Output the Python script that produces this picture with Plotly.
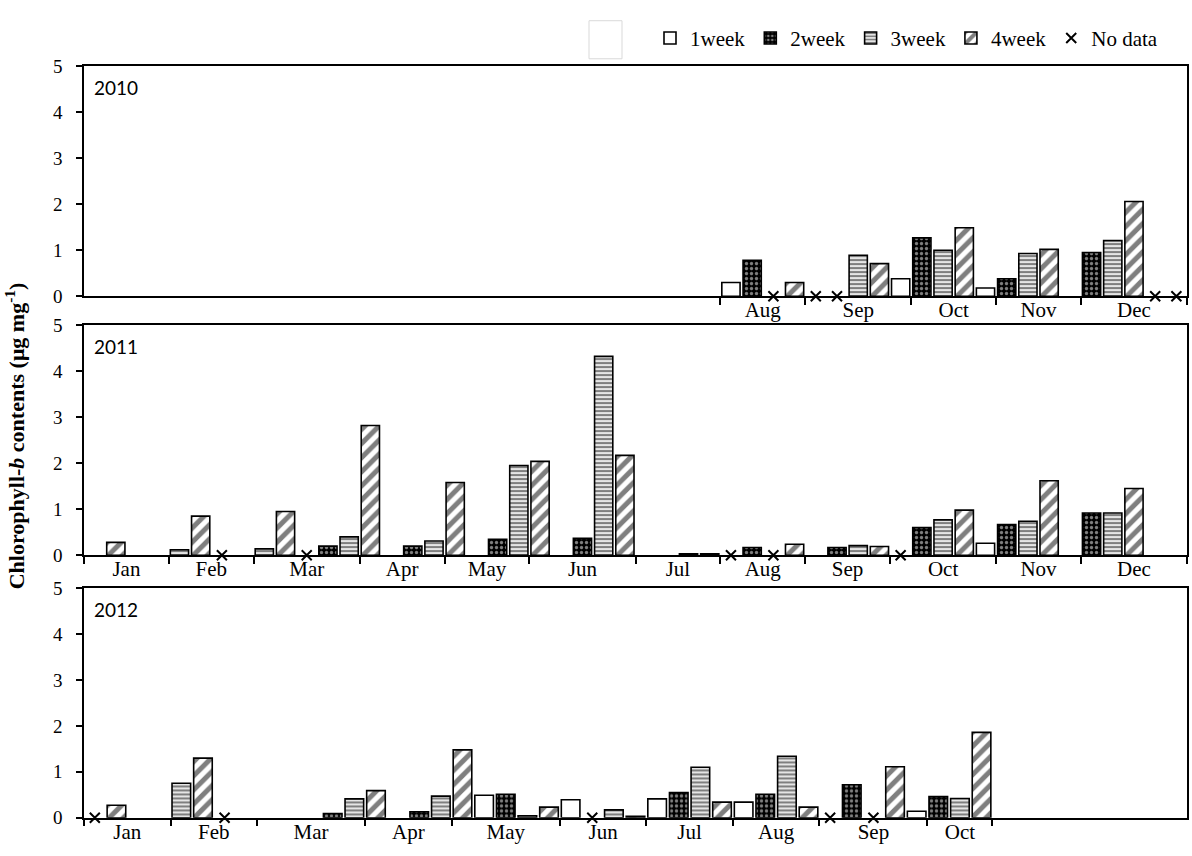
import plotly.graph_objects as go

W, H = 1192, 856

WEEK_NAMES = ["1week", "2week", "3week", "4week"]

# ---- 2010 (sampling starts in August; slot 30 = first week of August) ----
months_2010 = ["Aug", "Sep", "Oct", "Nov", "Dec"]
month_weeks_2010 = [4, 5, 4, 4, 5]
start_2010 = 30
week_2010 = [1, 2, 3, 4,
             1, 2, 3, 4, 1,
             2, 3, 4, 1,
             2, 3, 4, 1,
             2, 3, 4, 1, 2]
chl_2010 = [0.30, 0.78, None, 0.30,
            None, None, 0.89, 0.71, 0.38,
            1.27, 1.00, 1.49, 0.18,
            0.38, 0.93, 1.02, None,
            0.95, 1.21, 2.06, None, None]
nodata_2010 = [0, 0, 1, 0,
               1, 1, 0, 0, 0,
               0, 0, 0, 0,
               0, 0, 0, 0,
               0, 0, 0, 1, 1]

# ---- 2011 ----
months_2011 = ["Jan", "Feb", "Mar", "Apr", "May", "Jun",
               "Jul", "Aug", "Sep", "Oct", "Nov", "Dec"]
month_weeks_2011 = [4, 4, 5, 4, 4, 5, 4, 4, 4, 5, 4, 5]
start_2011 = 0
week_2011 = [3, 4, 1, 2,
             3, 4, 1, 2,
             3, 4, 1, 2, 3,
             4, 1, 2, 3,
             4, 1, 2, 3,
             4, 1, 2, 3, 4,
             1, 2, 3, 4,
             1, 2, 3, 4,
             1, 2, 3, 4,
             1, 2, 3, 4, 1,
             2, 3, 4, 1,
             2, 3, 4, 1, 2]
chl_2011 = [None, 0.28, None, None,
            0.12, 0.85, None, None,
            0.14, 0.95, None, 0.20, 0.40,
            2.82, None, 0.20, 0.31,
            1.58, None, 0.35, 1.95,
            2.04, None, 0.37, 4.32, 2.17,
            None, None, 0.03, 0.03,
            None, 0.17, None, 0.24,
            None, 0.17, 0.21, 0.19,
            None, 0.60, 0.77, 0.98, 0.26,
            0.67, 0.74, 1.62, None,
            0.92, 0.92, 1.45, None, None]
nodata_2011 = [0, 0, 0, 0,
               0, 0, 1, 0,
               0, 0, 1, 0, 0,
               0, 0, 0, 0,
               0, 0, 0, 0,
               0, 0, 0, 0, 0,
               0, 0, 0, 0,
               1, 0, 1, 0,
               0, 0, 0, 0,
               1, 0, 0, 0, 0,
               0, 0, 0, 0,
               0, 0, 0, 0, 0]

# ---- 2012 ----
months_2012 = ["Jan", "Feb", "Mar", "Apr", "May", "Jun",
               "Jul", "Aug", "Sep", "Oct"]
month_weeks_2012 = [4, 4, 5, 4, 5, 4, 4, 4, 5, 3]
start_2012 = 0
week_2012 = [3, 4, 1, 2,
             3, 4, 1, 2,
             3, 4, 1, 2, 3,
             4, 1, 2, 3,
             4, 1, 2, 3, 4,
             1, 2, 3, 4,
             1, 2, 3, 4,
             1, 2, 3, 4,
             1, 2, 3, 4, 1,
             2, 3, 4]
chl_2012 = [None, 0.27, None, None,
            0.75, 1.30, None, None,
            None, None, None, 0.09, 0.41,
            0.59, None, 0.13, 0.47,
            1.48, 0.49, 0.51, 0.04, 0.23,
            0.39, None, 0.17, 0.03,
            0.41, 0.55, 1.10, 0.34,
            0.34, 0.51, 1.34, 0.23,
            None, 0.72, None, 1.11, 0.14,
            0.46, 0.42, 1.86]
nodata_2012 = [1, 0, 0, 0,
               0, 0, 1, 0,
               0, 0, 0, 0, 0,
               0, 0, 0, 0,
               0, 0, 0, 0, 0,
               0, 1, 0, 0,
               0, 0, 0, 0,
               0, 0, 0, 0,
               1, 0, 1, 0, 0,
               0, 0, 0]

years = ["2010", "2011", "2012"]
slots_total = [52, 52, 51]

panels = [
    dict(months=months_2010, mw=month_weeks_2010, start=start_2010,
         week=week_2010, val=chl_2010, nd=nodata_2010),
    dict(months=months_2011, mw=month_weeks_2011, start=start_2011,
         week=week_2011, val=chl_2011, nd=nodata_2011),
    dict(months=months_2012, mw=month_weeks_2012, start=start_2012,
         week=week_2012, val=chl_2012, nd=nodata_2012),
]

# bar fill styles per sampling week
PATTERNS = {
    1: dict(shape="", bgcolor="white", fgcolor="white"),
    2: dict(shape=".", bgcolor="black", fgcolor="white", size=5, solidity=0.35),
    3: dict(shape="-", bgcolor="white", fgcolor="black", size=4, solidity=0.6),
    4: dict(shape="/", bgcolor="white", fgcolor="black", size=10, solidity=0.5),
}

SERIF = "Liberation Serif"

# panel geometry in pixels (plot-area left/right, top/bottom of each panel)
X_LEFT, X_RIGHT = 84, 1187
PANEL_TB = [(57.5, 293.5), (323, 559), (593, 828)]

fig = go.Figure()

legend_done = set()
for p_i, p in enumerate(panels):
    xa = "x" if p_i == 0 else f"x{p_i + 1}"
    ya = "y" if p_i == 0 else f"y{p_i + 1}"
    for w in (1, 2, 3, 4):
        xs, ys = [], []
        for k, (wk, v) in enumerate(zip(p["week"], p["val"])):
            if wk == w and v is not None:
                xs.append(p["start"] + k + 0.5)
                ys.append(v)
        fig.add_trace(go.Bar(
            x=xs, y=ys, width=0.86, xaxis=xa, yaxis=ya,
            name=WEEK_NAMES[w - 1], legendgroup=WEEK_NAMES[w - 1],
            showlegend=(w not in legend_done),
            marker=dict(color="white", pattern=PATTERNS[w],
                        line=dict(color="black", width=1.6)),
            hoverinfo="x+y",
        ))
        legend_done.add(w)
    nx = [p["start"] + k + 0.5 for k, f in enumerate(p["nd"]) if f]
    fig.add_trace(go.Scatter(
        x=nx, y=[0] * len(nx), mode="markers", xaxis=xa, yaxis=ya,
        name="No data", legendgroup="nodata", showlegend=(p_i == 0),
        cliponaxis=False,
        marker=dict(symbol="x-thin", size=10, color="black",
                    line=dict(color="black", width=2)),
    ))

layout = dict(
    width=W, height=H,
    margin=dict(l=0, r=0, t=0, b=0),
    paper_bgcolor="white", plot_bgcolor="white",
    barmode="overlay",
    font=dict(family=SERIF, size=17, color="black"),
    legend=dict(orientation="h", x=650 / W, y=1 - 29 / H,
                xanchor="left", yanchor="middle",
                font=dict(family=SERIF, size=21, color="black"),
                bgcolor="rgba(0,0,0,0)", traceorder="normal",
                itemwidth=30, tracegroupgap=0),
)

annotations = []
for p_i, p in enumerate(panels):
    top, bot = PANEL_TB[p_i]
    bounds = [p["start"]]
    for n in p["mw"]:
        bounds.append(bounds[-1] + n)
    centers = [(bounds[i] + bounds[i + 1]) / 2 for i in range(len(p["mw"]))]
    xkey = "xaxis" if p_i == 0 else f"xaxis{p_i + 1}"
    ykey = "yaxis" if p_i == 0 else f"yaxis{p_i + 1}"
    ya = "y" if p_i == 0 else f"y{p_i + 1}"
    xa = "x" if p_i == 0 else f"x{p_i + 1}"
    layout[xkey] = dict(
        domain=[X_LEFT / W, X_RIGHT / W], anchor=ya,
        range=[0, slots_total[p_i]],
        showline=True, linecolor="black", linewidth=1.6, mirror=True,
        showgrid=False, zeroline=False,
        tickmode="array", tickvals=centers, ticktext=p["months"],
        ticks="outside", ticklen=0, tickcolor="black",
        ticklabelstandoff=-6,
        tickfont=dict(family=SERIF, size=21, color="black"),
        minor=dict(tickmode="array", tickvals=bounds, ticks="outside",
                   ticklen=7, tickwidth=1.6, tickcolor="black",
                   showgrid=False),
        fixedrange=True,
    )
    layout[ykey] = dict(
        domain=[1 - bot / H, 1 - top / H], anchor=xa,
        range=[0, 5], tickmode="array", tickvals=[0, 1, 2, 3, 4, 5],
        showline=True, linecolor="black", linewidth=1.6, mirror=True,
        showgrid=False, zeroline=False,
        ticks="outside", ticklen=6, tickwidth=1.6, tickcolor="black",
        ticklabelstandoff=10,
        tickfont=dict(family=SERIF, size=19, color="black"),
        fixedrange=True,
    )
    annotations.append(dict(
        text=years[p_i], xref=f"{xa} domain", yref=f"{ya} domain",
        x=8 / (X_RIGHT - X_LEFT), y=1 - 22 / (bot - top),
        xanchor="left", yanchor="middle", showarrow=False,
        font=dict(family="Lato", size=19, color="black"),
    ))

annotations.append(dict(
    text="Chlorophyll-<i>b</i> contents (μg mg<sup>-1</sup>)",
    xref="paper", yref="paper", x=15 / W, y=1 - 437 / H,
    xanchor="center", yanchor="middle", textangle=-90, showarrow=False,
    font=dict(family=SERIF, size=22, color="black", weight="bold"),
))

layout["annotations"] = annotations
layout["shapes"] = [dict(
    type="rect", xref="paper", yref="paper",
    x0=589 / W, x1=622 / W, y0=1 - 50 / H, y1=1 - 11 / H,
    line=dict(color="#d9d9d9", width=1), fillcolor="white",
)]

fig.update_layout(**layout)
fig.write_html("out.html")
